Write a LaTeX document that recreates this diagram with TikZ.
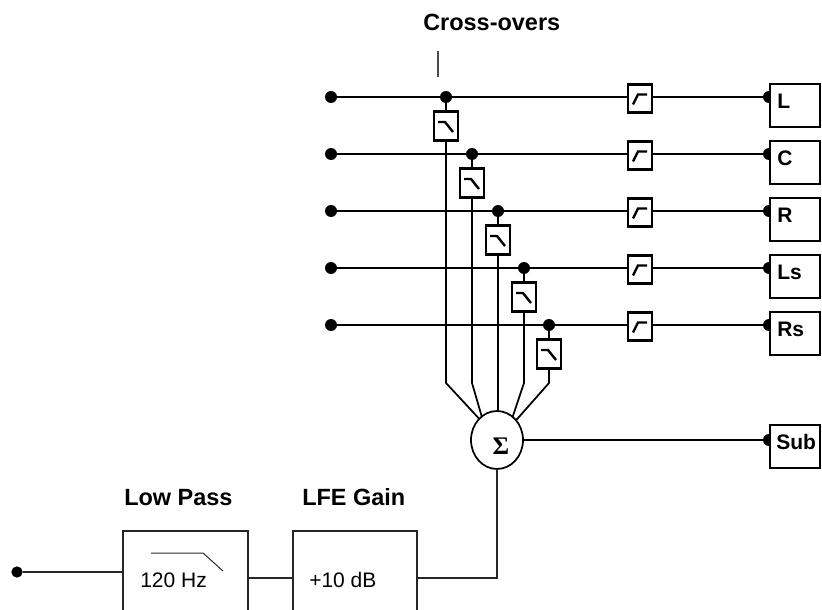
\documentclass[tikz,border=0pt]{standalone}
\usepackage{fontspec}
\setmainfont{Liberation Sans}
\newfontfamily\sigmafont{Liberation Serif}
\usetikzlibrary{shapes.geometric}
\tikzset{
  x=0.75pt,y=-0.75pt,
  wire/.style={line width=1.3pt,black},
  thin wire/.style={line width=0.95pt,black!85},
  dotnode/.style={circle,fill=black,draw=none,minimum size=9pt,inner sep=0pt,outer sep=0pt},
  filterbox/.style={rectangle,draw=black,fill=white,line width=2.2pt,minimum width=18pt,minimum height=21.5pt,inner sep=0pt,outer sep=0pt},
  outbox/.style={rectangle,draw=black,fill=white,line width=1.3pt,minimum width=37.5pt,minimum height=32pt,inner sep=0pt,outer sep=0pt},
  sumnode/.style={ellipse,draw=black,fill=white,line width=1.3pt,minimum width=39pt,minimum height=43.5pt,inner sep=0pt,outer sep=0pt},
  curve/.style={line width=1.8pt,black},
  heading/.style={font=\fontsize{17.6}{20}\selectfont\bfseries,anchor=base west,inner sep=0pt},
  outlabel/.style={font=\fontsize{15.75}{18}\selectfont\bfseries,anchor=base west,inner sep=0pt},
  plainlabel/.style={font=\fontsize{15.75}{18}\selectfont,anchor=base west,inner sep=0pt},
  openbox/.style={line width=0.95pt,black!85}
}
\begin{document}
\begin{tikzpicture}
\useasboundingbox (0,0) rectangle (822,610);
% text headings
\node[heading] (title) at (423,31) {Cross-overs};
\coordinate (tickA) at (438,51);
\coordinate (tickB) at (438,77);
\draw[line width=0.9pt,black!70] (tickA) -- (tickB);
\node[heading] (lowtitle) at (124,505) {Low Pass};
\node[heading] (gaintitle) at (302,505) {LFE Gain};
% sum
\node[sumnode] (sum) at (497,440) {};
\node[font=\fontsize{19}{20}\selectfont\bfseries\sigmafont,inner sep=0pt] (sigma) at (501,446) {Σ};
% outputs, rows
\foreach \i/\y/\bx/\lab/\base in {1/97/446/L/109,2/154/472/C/166,3/211/498/R/222,4/268/524/Ls/279,5/325/549/Rs/336}{
  \node[dotnode] (sd\i) at (331,\y) {};
  \node[dotnode] (od\i) at (769,\y) {};
  \node[outbox] (out\i) at (795,\y+8.5) {};
  \node[outlabel] (lab\i) at (777,\base) {\lab};
  \node[filterbox] (hp\i) at (640,\y+1.5) {};
  \draw[curve] ([shift={(-7,6)}]hp\i.center) -- ++(5,-10) -- ++(9,0);
  \draw[wire] (sd\i) -- (sd\i -| hp\i.west);
  \draw[wire] (sd\i -| hp\i.east) -- (od\i);
  \node[dotnode] (bd\i) at (\bx,\y) {};
  \node[filterbox] (lp\i) at (\bx,\y+29) {};
  \draw[curve] ([shift={(-8,-4)}]lp\i.center) -- ++(7,0) -- ++(8,10);
  \draw[wire] (bd\i) -- (lp\i.north);
  \coordinate (j\i) at (\bx,383);
}
\draw[wire] (lp1.south) -- (j1) -- (sum.130);
\draw[wire] (lp2.south) -- (j2) -- (sum.123);
\draw[wire] (lp3.south) -- (sum.north -| lp3);
\draw[wire] (lp4.south) -- (j4) -- (sum.56);
\draw[wire] (lp5.south) -- (j5) -- (sum.46);
% sub
\node[dotnode] (subdot) at (769,440) {};
\node[outbox] (subbox) at (795,446.5) {};
\node[outlabel] (sublab) at (776,449) {Sub};
\draw[wire] (sum.east) -- (subdot);
% low pass chain
\node[dotnode,minimum size=8.5pt] (indot) at (17,572) {};
\coordinate (lpNW) at (123,531);
\coordinate (lpNE) at (248,531);
\coordinate (lpSW) at (123,610);
\coordinate (lpSE) at (248,610);
\coordinate (gNW) at (293,531);
\coordinate (gNE) at (417,531);
\coordinate (gSW) at (293,610);
\coordinate (gSE) at (417,610);
\draw[openbox] (lpSW) -- (lpNW) -- (lpNE) -- (lpSE);
\draw[openbox] (gSW) -- (gNW) -- (gNE) -- (gSE);
\coordinate (lpin) at (123,572);
\coordinate (lpout) at (248,578);
\coordinate (gin) at (293,578);
\coordinate (gout) at (417,578);
\coordinate (bend) at (497,578);
\draw[thin wire] (indot) -- (lpin);
\draw[thin wire] (lpout) -- (gin);
\draw[thin wire] (gout) -- (bend) -- (sum.south);
\coordinate (c1) at (151,553);
\coordinate (c2) at (203,553);
\coordinate (c3) at (223,571);
\draw[line width=0.75pt,black!85] (c1) -- (c2) -- (c3);
\node[plainlabel] (hz) at (140,587) {120 Hz};
\node[plainlabel] (db) at (309,587) {+10 dB};
\end{tikzpicture}
\end{document}
